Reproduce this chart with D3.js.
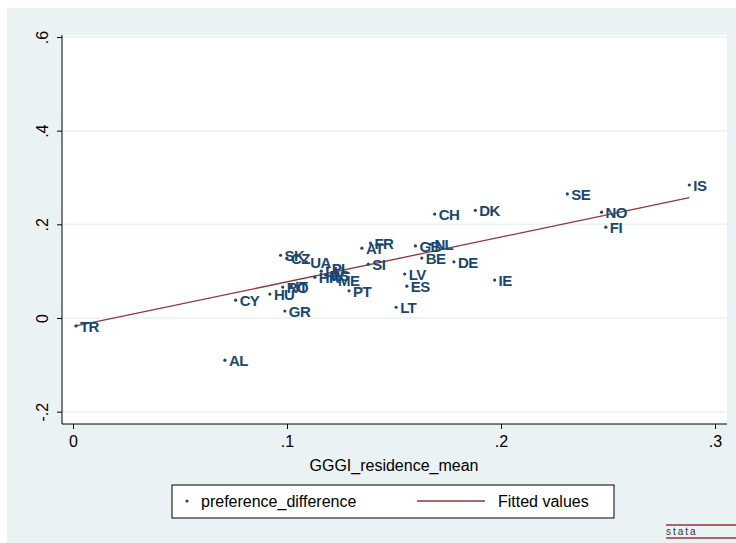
<!DOCTYPE html>
<html><head><meta charset="utf-8">
<script src="https://cdn.jsdelivr.net/npm/d3@7"></script>
<style>body{margin:0;background:#fff}svg{font-family:Arial,"Liberation Sans",sans-serif}</style>
</head><body>
<script>
var countries = ["TR","AL","CY","HU","GR","RO","IT","SK","CZ","UA","PL","LU","HR","RS","ME","PT","SI","FR","AT","GB","NL","BE","DE","LV","ES","LT","IE","CH","DK","SE","NO","FI","IS"];
var gggi = [0.0014,0.071,0.076,0.092,0.099,0.098,0.102,0.097,0.100,0.109,0.119,0.116,0.113,0.118,0.122,0.129,0.138,0.139,0.135,0.160,0.167,0.163,0.178,0.155,0.156,0.151,0.197,0.169,0.188,0.231,0.247,0.249,0.288];
var prefDiff = [-0.017,-0.090,0.038,0.051,0.015,0.066,0.068,0.134,0.128,0.120,0.107,0.100,0.087,0.092,0.082,0.058,0.115,0.160,0.149,0.154,0.157,0.128,0.120,0.094,0.068,0.023,0.081,0.222,0.230,0.265,0.226,0.194,0.284];
var fitX = [0.0014,0.288];
var fitY = [-0.017,0.257];
var xTicks = [0,0.1,0.2,0.3], xTickLabels = ["0",".1",".2",".3"];
var yTicks = [-0.2,0,0.2,0.4,0.6], yTickLabels = ["-.2","0",".2",".4",".6"];

var W = 736, H = 543, navy = "#1a476f", red = "#90353b";
var svg = d3.select("body").append("svg").attr("width", W).attr("height", H);
svg.append("rect").attr("x",7).attr("y",8).attr("width",W-7).attr("height",H-8).attr("fill","#eaf2f3");
var L = 62, R = 727, T = 35, B = 424;
svg.append("rect").attr("x",L).attr("y",T).attr("width",R-L).attr("height",B-T).attr("fill","#fff");

var x = d3.scaleLinear().domain([0,0.3]).range([73,715]);
var y = d3.scaleLinear().domain([0,0.6]).range([318,37]);

svg.selectAll(".grid").data(yTicks).enter().append("line")
  .attr("x1",L).attr("x2",R).attr("y1",d=>y(d)).attr("y2",d=>y(d))
  .attr("stroke","#eaf2f3").attr("stroke-width",1.5);

var xa = svg.append("g").attr("transform","translate(0,"+B+")")
  .call(d3.axisBottom(x).tickValues(xTicks).tickFormat((d,i)=>xTickLabels[i]).tickSize(5).tickSizeOuter(0));
xa.select(".domain").attr("d","M"+L+",0H"+R).attr("stroke","#000");
xa.selectAll("text").attr("font-size",16).attr("dy","0.95em").attr("fill","#000");
var ya = svg.append("g").attr("transform","translate("+L+",0)")
  .call(d3.axisLeft(y).tickValues(yTicks).tickFormat((d,i)=>yTickLabels[i]).tickSize(5).tickSizeOuter(0));
ya.select(".domain").attr("d","M0,"+T+"V"+B).attr("stroke","#000");
ya.selectAll("text").attr("font-size",16).attr("text-anchor","middle").attr("fill","#000")
  .attr("x",0).attr("y",0).attr("dy","0.35em")
  .attr("transform","translate(-20,0) rotate(-90)");

svg.append("text").attr("x",394).attr("y",471).attr("text-anchor","middle").attr("font-size",16).text("GGGI_residence_mean");

var line = d3.line().x(d=>x(d[0])).y(d=>y(d[1]));
svg.append("path").datum(d3.zip(fitX,fitY)).attr("d",line).attr("fill","none").attr("stroke",red).attr("stroke-width",1.3);

var pts = d3.zip(gggi,prefDiff,countries);
svg.selectAll(".pt").data(pts).enter().append("circle")
  .attr("cx",d=>x(d[0])).attr("cy",d=>y(d[1])).attr("r",1.6).attr("fill",navy);
svg.selectAll(".lab").data(pts).enter().append("text")
  .attr("x",d=>x(d[0])+4).attr("y",d=>y(d[1])+6).attr("font-size",15).attr("font-weight","bold")
  .attr("letter-spacing","-0.6").attr("fill",navy).text(d=>d[2]);

var lg = svg.append("g");
lg.append("rect").attr("x",172).attr("y",485).attr("width",442).attr("height",33).attr("fill","#fff").attr("stroke","#000");
lg.append("circle").attr("cx",187).attr("cy",501).attr("r",1.6).attr("fill",navy);
lg.append("text").attr("x",201).attr("y",507).attr("font-size",16).text("preference_difference");
lg.append("line").attr("x1",417).attr("x2",485).attr("y1",501).attr("y2",501).attr("stroke",red).attr("stroke-width",1.3);
lg.append("text").attr("x",498).attr("y",507).attr("font-size",16).text("Fitted values");

svg.append("line").attr("x1",666).attr("x2",736).attr("y1",525).attr("y2",525).attr("stroke",red).attr("stroke-width",1.5);
svg.append("line").attr("x1",666).attr("x2",736).attr("y1",538).attr("y2",538).attr("stroke",red).attr("stroke-width",1.5);
svg.append("text").attr("x",666).attr("y",535).attr("font-size",10).attr("letter-spacing","2").attr("fill","#333").text("stata");
</script>
</body></html>
